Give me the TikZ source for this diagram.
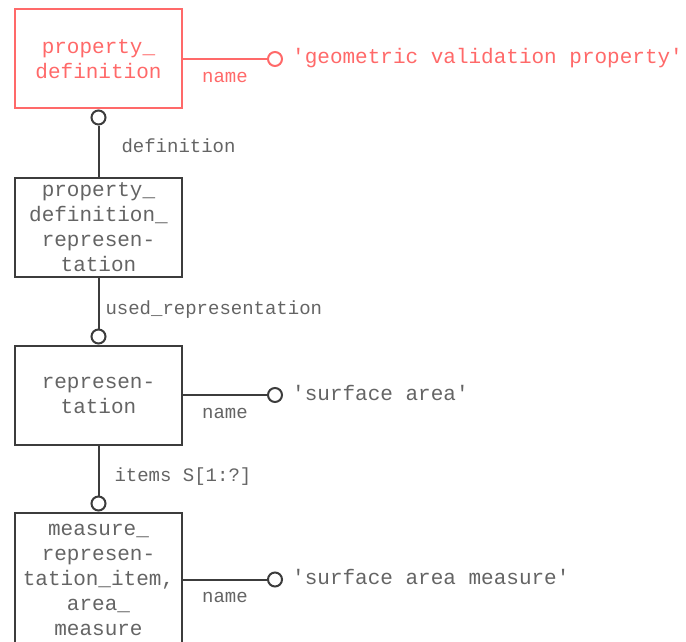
\documentclass[tikz,border=0pt]{standalone}
\usepackage{fontspec}
\setmonofont{Liberation Mono}
\usetikzlibrary{positioning}
\definecolor{entred}{RGB}{255,105,105}
\definecolor{entline}{RGB}{60,60,60}
\definecolor{enttext}{RGB}{100,100,100}
\tikzset{
  entity/.style={rectangle, draw, line width=2pt, minimum width=167pt, minimum height=99pt,
    inner sep=0pt, align=center, font=\ttfamily\fontsize{21}{25}\selectfont},
  hook/.style={circle, line width=2pt, fill=white, minimum size=14pt, inner sep=0pt},
  attr/.style={inner sep=0pt, text height=14pt, text depth=4pt, font=\ttfamily\fontsize{21}{25}\selectfont},
  lab/.style={inner sep=0pt, font=\ttfamily\fontsize{19}{22}\selectfont}
}
\begin{document}
\begin{tikzpicture}[x=1pt,y=1pt]
  \useasboundingbox (0,0) rectangle (686,-642);
  \node (pd) [entity, color=entred] at (98.5,-59) {property\_\\definition};
  \node (pdr) [entity, color=entline, text=enttext, below=67pt of pd] {property\_\\definition\_\\represen-\\tation};
  \node (rep) [entity, color=entline, text=enttext, below=67pt of pdr] {represen-\\tation};
  \node (mri) [entity, color=entline, text=enttext, minimum height=134pt, below=66pt of rep]
    {measure\_\\represen-\\tation\_item,\\area\_\\measure};

  \node (c1) [hook, draw=entred, right=84pt of pd.east] {};
  \node (c2) [hook, draw=entline, below=0pt of pd.south] {};
  \node (c3) [hook, draw=entline, above=0pt of rep.north] {};
  \node (c4) [hook, draw=entline, right=84pt of rep.east] {};
  \node (c5) [hook, draw=entline, above=0pt of mri.north] {};
  \node (c6) [hook, draw=entline, right=84pt of mri.east] {};

  \node (s1) [attr, text=entred, right=9pt of c1] {'geometric validation property'};
  \node (s2) [attr, text=enttext, right=9pt of c4] {'surface area'};
  \node (s3) [attr, text=enttext, right=9pt of c6] {'surface area measure'};

  \path[color=entred, line width=2pt]
    (pd.east) edge node [lab, below=12pt] {name} (c1);
  \path[color=entline, text=enttext, line width=2pt]
    (c2) edge node [lab, right=22pt, pos=0.4] {definition} (pdr)
    (pdr) edge node [lab, right=6pt, pos=0.62] {used\_representation} (c3)
    (rep.east) edge node [lab, below=12pt] {name} (c4)
    (rep) edge node [lab, right=15pt, pos=0.63] {items S[1:?]} (c5)
    (mri.east) edge node [lab, below=12pt] {name} (c6);
\end{tikzpicture}
\end{document}
